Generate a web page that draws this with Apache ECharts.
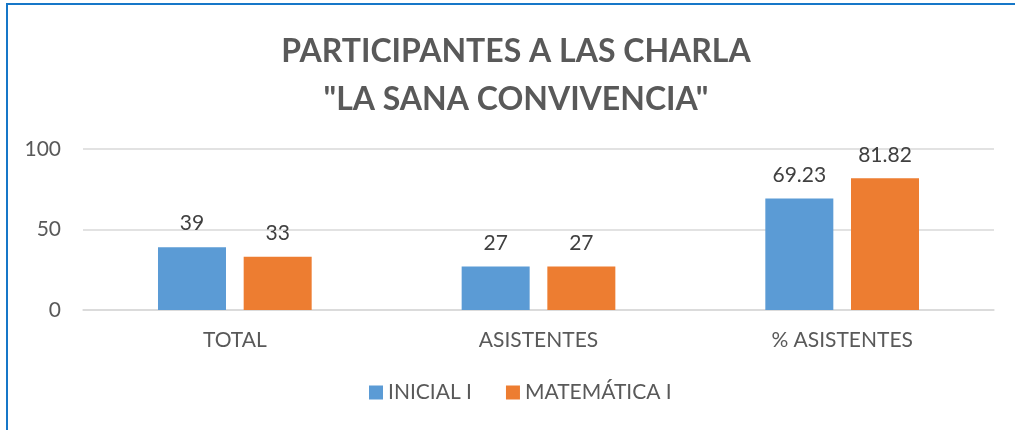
<!DOCTYPE html>
<html>
<head>
<meta charset="utf-8">
<script src="https://cdn.jsdelivr.net/npm/echarts@6/dist/echarts.min.js"></script>
<style>
  html, body { margin: 0; padding: 0; background: #fff; overflow: hidden; }
  #chart { width: 1015px; height: 430px; }
</style>
</head>
<body>
<div id="chart"></div>
<script>
  const categories = ['TOTAL', 'ASISTENTES', '% ASISTENTES']
  const inicial = [39, 27, 69.23]
  const matematica = [33, 27, 81.82]
  const seriesNames = ['INICIAL I', 'MATEMÁTICA I']
  const yTicks = [0, 50, 100]

  const FONT = 'Lato, "Open Sans", sans-serif'
  let myChart = echarts.init(document.getElementById('chart'))
  myChart.setOption({
    animation: false,
    graphic: [
      {
        type: 'polyline',
        shape: { points: [[7, 430], [7, 4], [1015, 4]] },
        style: { stroke: '#1677C8', lineWidth: 2, fill: null }
      }
    ],
    title: {
      text: 'PARTICIPANTES A LAS CHARLA\n"LA SANA CONVIVENCIA"',
      left: 511,
      textAlign: 'center',
      top: 23,
      textStyle: {
        fontFamily: FONT,
        fontSize: 32,
        fontWeight: 'bold',
        color: '#595959',
        lineHeight: 48
      }
    },
    legend: {
      bottom: 22,
      left: 364,
      itemWidth: 14,
      itemHeight: 14,
      itemGap: 34,
      icon: 'rect',
      textStyle: { fontFamily: FONT, fontSize: 21, color: '#595959' },
      data: seriesNames
    },
    grid: { left: 83, right: 21, top: 149, bottom: 120 },
    xAxis: {
      type: 'category',
      data: categories,
      axisTick: { show: false },
      axisLine: { lineStyle: { color: '#d9d9d9', width: 1.5 } },
      axisLabel: { fontFamily: FONT, fontSize: 21, color: '#595959', margin: 20 }
    },
    yAxis: {
      type: 'value',
      min: yTicks[0],
      max: yTicks[yTicks.length - 1],
      interval: 50,
      axisLine: { show: false },
      axisTick: { show: false },
      splitLine: { lineStyle: { color: '#d9d9d9', width: 1.5 } },
      axisLabel: { fontFamily: FONT, fontSize: 21, color: '#595959', margin: 22 }
    },
    series: [
      {
        name: seriesNames[0],
        type: 'bar',
        data: inicial,
        barWidth: 68,
        barGap: '26%',
        itemStyle: { color: '#5B9BD5' },
        label: { show: true, position: 'top', distance: 13, fontFamily: FONT, fontSize: 21, color: '#404040' }
      },
      {
        name: seriesNames[1],
        type: 'bar',
        data: matematica,
        barWidth: 68,
        barGap: '26%',
        itemStyle: { color: '#ED7D31' },
        label: { show: true, position: 'top', distance: 13, fontFamily: FONT, fontSize: 21, color: '#404040' }
      }
    ]
  })
</script>
</body>
</html>
